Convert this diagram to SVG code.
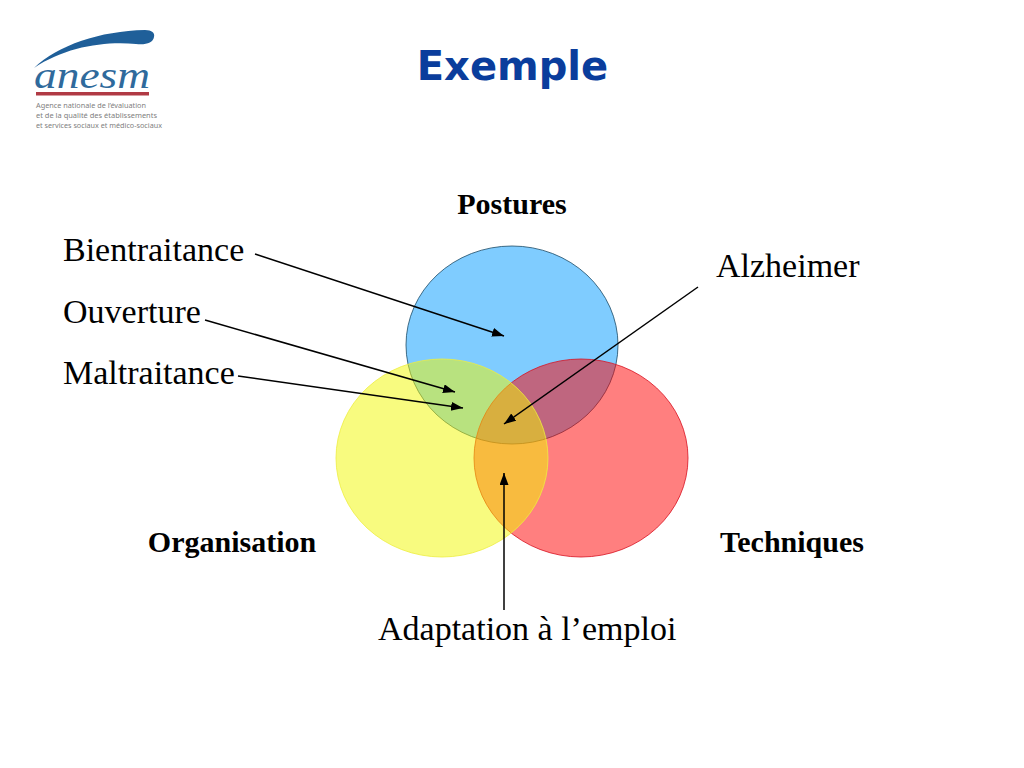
<svg xmlns="http://www.w3.org/2000/svg" width="1024" height="768" viewBox="0 0 1024 768">
<style>
.lab{font-family:"Liberation Serif",serif;font-size:34px;fill:#000}
.head{font-family:"Liberation Serif",serif;font-size:30px;font-weight:bold;fill:#000}
.small{font-family:"Noto Sans","Liberation Sans",sans-serif;font-size:7.2px;fill:#808080}
.con{fill:none;stroke:#000;stroke-width:1.5;marker-end:url(#arr)}
</style>
<defs>
<marker id="arr" markerUnits="userSpaceOnUse" markerWidth="13" markerHeight="10" refX="12" refY="4.500" orient="auto"><path d="M0 0L12 4.500L0 9Z" fill="#000"/></marker>
</defs>
<rect width="1024" height="768" fill="#fff"/>
<g id="logo">
<path d="M34 68C58 45 100 31 145 30C152 30 155 33 154 37C153 43 146 45 136 44C104 41 65 47 34 68Z" fill="#1f5f99"/>
<text x="34" y="88" font-family="Liberation Serif,serif" font-style="italic" font-size="37" fill="#2f6a9c" textLength="116" lengthAdjust="spacingAndGlyphs">anesm</text>
<rect x="36" y="92" width="113" height="3.500" fill="#b03a44"/>
<text class="small" x="36" y="108" textLength="110" lengthAdjust="spacingAndGlyphs">Agence nationale de l’évaluation</text>
<text class="small" x="36" y="118" textLength="121" lengthAdjust="spacingAndGlyphs">et de la qualité des établissements</text>
<text class="small" x="36" y="128" textLength="126" lengthAdjust="spacingAndGlyphs">et services sociaux et médico-sociaux</text>
</g>
<text id="title" x="512.500" y="80" text-anchor="middle" font-family="DejaVu Sans,sans-serif" font-weight="bold" font-size="40" fill="#0a3d9c">Exemple</text>
<g id="blue"><ellipse cx="512" cy="345" rx="106" ry="99" fill="#0099ff" fill-opacity=".5" stroke="#1a4a66" stroke-width=".8"/></g>
<g id="red"><ellipse cx="581" cy="458" rx="107" ry="99" fill="#ff0000" fill-opacity=".5" stroke="#d81020" stroke-width=".8"/></g>
<g id="yellow"><ellipse cx="442" cy="458" rx="106" ry="99" fill="#f2f800" fill-opacity=".5" stroke="#eeee40" stroke-width=".8"/></g>
<g id="connectors">
<path class="con" d="M255 254L504 336"/>
<path class="con" d="M205 320L455 392"/>
<path class="con" d="M238 376L463 408"/>
<path class="con" d="M698 287L504 424"/>
<path class="con" d="M504 610V473"/>
</g>
<g id="n-postures"><text class="head" x="512" y="214" text-anchor="middle">Postures</text></g>
<g id="n-organisation"><text class="head" x="232" y="552" text-anchor="middle">Organisation</text></g>
<g id="n-techniques"><text class="head" x="792" y="552" text-anchor="middle">Techniques</text></g>
<g id="n-bientraitance"><text class="lab" x="63" y="261">Bientraitance</text></g>
<g id="n-ouverture"><text class="lab" x="63" y="323">Ouverture</text></g>
<g id="n-maltraitance"><text class="lab" x="63" y="384">Maltraitance</text></g>
<g id="n-alzheimer"><text class="lab" x="716" y="277">Alzheimer</text></g>
<g id="n-adaptation"><text class="lab" x="378" y="640">Adaptation à l’emploi</text></g>
</svg>
